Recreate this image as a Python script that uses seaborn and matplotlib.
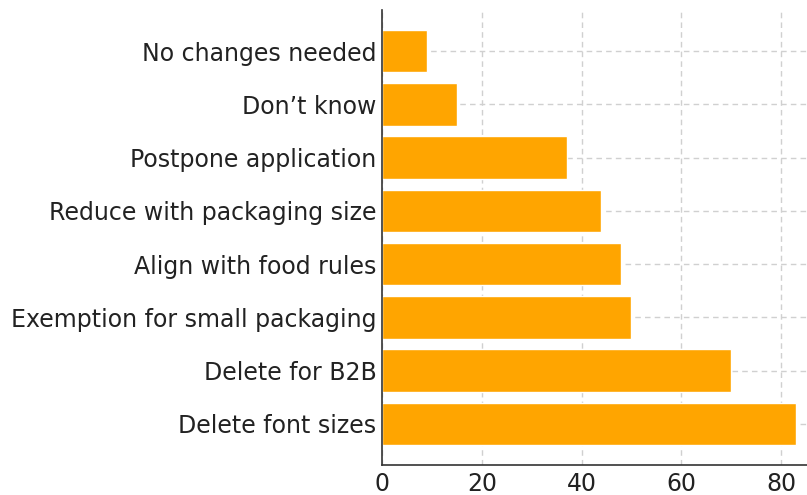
import matplotlib
matplotlib.use("Agg")
import matplotlib.pyplot as plt
import seaborn as sns
import pandas as pd

categories = [
    "No changes needed",
    "Don\u2019t know",
    "Postpone application",
    "Reduce with packaging size",
    "Align with food rules",
    "Exemption for small packaging",
    "Delete for B2B",
    "Delete font sizes",
]
values = [9, 15, 37, 44, 48, 50, 70, 83]
x_ticks = [0, 20, 40, 60, 80]

df = pd.DataFrame({"option": categories, "count": values})

sns.set_style("white")
plt.rcParams["font.family"] = ["DejaVu Sans"]

fig = plt.figure(figsize=(8.07, 4.95), dpi=100)
ax = fig.add_axes([382 / 807, 30 / 495, 1 - 382 / 807, 455 / 495])

sns.barplot(data=df, y="option", x="count", orient="h", color="#FFA500",
            saturation=1, width=0.8, ax=ax)

ax.set_xlim(0, 85.2)
ax.set_ylim(len(categories) - 1 + 0.77, -0.77)
ax.set_xticks(x_ticks)
ax.set_xlabel("")
ax.set_ylabel("")

ax.grid(True, linestyle=(0, (4, 3)), color="#d0d0d0", linewidth=1)
ax.set_axisbelow(True)

for side in ["top", "right"]:
    ax.spines[side].set_visible(False)
for side in ["left", "bottom"]:
    ax.spines[side].set_color("#333333")
    ax.spines[side].set_linewidth(1.2)

ax.tick_params(axis="both", direction="in", length=5, width=1.2,
               colors="#333333", labelsize=17, labelcolor="#222222")
ax.tick_params(axis="y", pad=4)
ax.tick_params(axis="x", pad=5)

fig.savefig("out.png", dpi=100)
